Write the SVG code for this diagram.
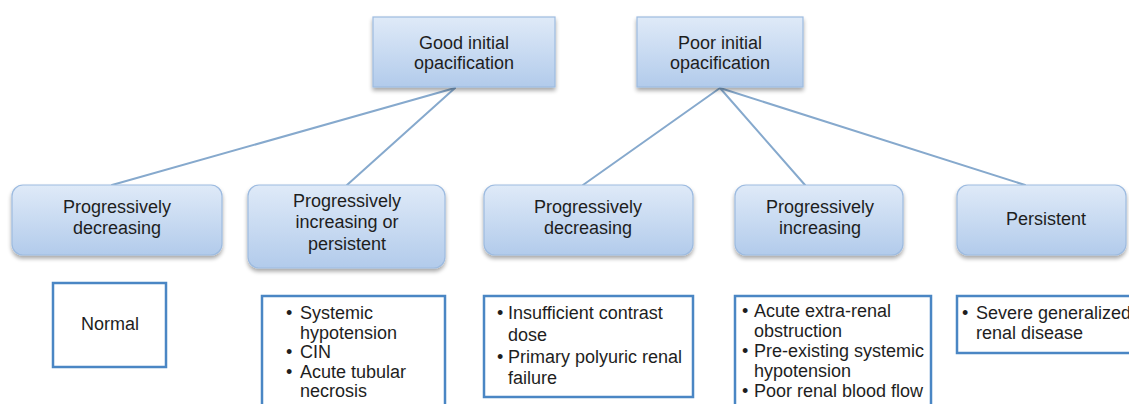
<svg xmlns="http://www.w3.org/2000/svg" width="1129" height="404" viewBox="0 0 1129 404">
<defs>
<linearGradient id="g" x1="0" y1="0" x2="0" y2="1">
<stop offset="0" stop-color="#dfeaf8"/>
<stop offset="1" stop-color="#b2cbeb"/>
</linearGradient>
<filter id="sh" x="-10%" y="-10%" width="120%" height="130%">
<feGaussianBlur in="SourceAlpha" stdDeviation="2"/>
<feOffset dy="3" result="b"/>
<feComponentTransfer><feFuncA type="linear" slope="0.35"/></feComponentTransfer>
<feMerge><feMergeNode/><feMergeNode in="SourceGraphic"/></feMerge>
</filter>
</defs>
<style>
.top{fill:url(#g);stroke:#9dbbe0;stroke-width:1.2;filter:url(#sh)}
.mid{fill:url(#g);stroke:#9dbbe0;stroke-width:1.2;filter:url(#sh)}
.out{fill:#fff;stroke:#4a86c4;stroke-width:2.5}
text{font-family:"Liberation Sans",Arial,sans-serif;font-size:18px;fill:#1e1e1e}
.c{text-anchor:middle}
.conn line{stroke:#86a9cd;stroke-width:2;stroke-linecap:round}
</style>
<g id="connectors" class="conn">
<line x1="455" y1="88" x2="112" y2="185"/>
<line x1="455" y1="88" x2="347" y2="185"/>
<line x1="720" y1="88" x2="583" y2="185"/>
<line x1="720" y1="88" x2="805" y2="185"/>
<line x1="720" y1="88" x2="1025" y2="185"/>
</g>
<g id="good">
<rect class="top" x="373" y="17" width="182" height="70"/>
<text class="c" x="464" y="49">Good initial</text>
<text class="c" x="464" y="69">opacification</text>
</g>
<g id="poor">
<rect class="top" x="637" y="17" width="166" height="70"/>
<text class="c" x="720" y="49">Poor initial</text>
<text class="c" x="720" y="69">opacification</text>
</g>
<g id="mid1">
<rect class="mid" x="12" y="185" width="210" height="70" rx="11"/>
<text class="c" x="117" y="213">Progressively</text>
<text class="c" x="117" y="234">decreasing</text>
</g>
<g id="mid2">
<rect class="mid" x="248" y="185" width="197" height="83" rx="11"/>
<text class="c" x="347" y="207">Progressively</text>
<text class="c" x="347" y="228">increasing or</text>
<text class="c" x="347" y="250">persistent</text>
</g>
<g id="mid3">
<rect class="mid" x="484" y="185" width="209" height="70" rx="11"/>
<text class="c" x="588" y="213">Progressively</text>
<text class="c" x="588" y="234">decreasing</text>
</g>
<g id="mid4">
<rect class="mid" x="735" y="185" width="168" height="70" rx="11"/>
<text class="c" x="820" y="213">Progressively</text>
<text class="c" x="820" y="234">increasing</text>
</g>
<g id="mid5">
<rect class="mid" x="957" y="185" width="169" height="70" rx="11"/>
<text class="c" x="1046" y="225">Persistent</text>
</g>
<g id="out1">
<rect class="out" x="53" y="283" width="113" height="84"/>
<text class="c" x="110" y="330">Normal</text>
</g>
<g id="out2">
<rect class="out" x="262" y="296" width="183" height="120"/>
<text x="286" y="319">•</text><text x="300" y="319">Systemic</text>
<text x="300" y="339">hypotension</text>
<text x="286" y="358">•</text><text x="300" y="358">CIN</text>
<text x="286" y="378">•</text><text x="300" y="378">Acute tubular</text>
<text x="300" y="397">necrosis</text>
</g>
<g id="out3">
<rect class="out" x="484" y="296" width="209" height="101"/>
<text x="497" y="319">•</text><text x="508" y="319">Insufficient contrast</text>
<text x="508" y="341">dose</text>
<text x="497" y="363">•</text><text x="508" y="363">Primary polyuric renal</text>
<text x="508" y="384">failure</text>
</g>
<g id="out4">
<rect class="out" x="735" y="296" width="196" height="120"/>
<text x="742" y="317">•</text><text x="754" y="317">Acute extra-renal</text>
<text x="754" y="337">obstruction</text>
<text x="742" y="357">•</text><text x="754" y="357">Pre-existing systemic</text>
<text x="754" y="377">hypotension</text>
<text x="742" y="397">•</text><text x="754" y="397">Poor renal blood flow</text>
</g>
<g id="out5">
<rect class="out" x="957" y="296" width="190" height="57"/>
<text x="962" y="319">•</text><text x="976" y="319">Severe generalized</text>
<text x="976" y="339">renal disease</text>
</g>
</svg>
